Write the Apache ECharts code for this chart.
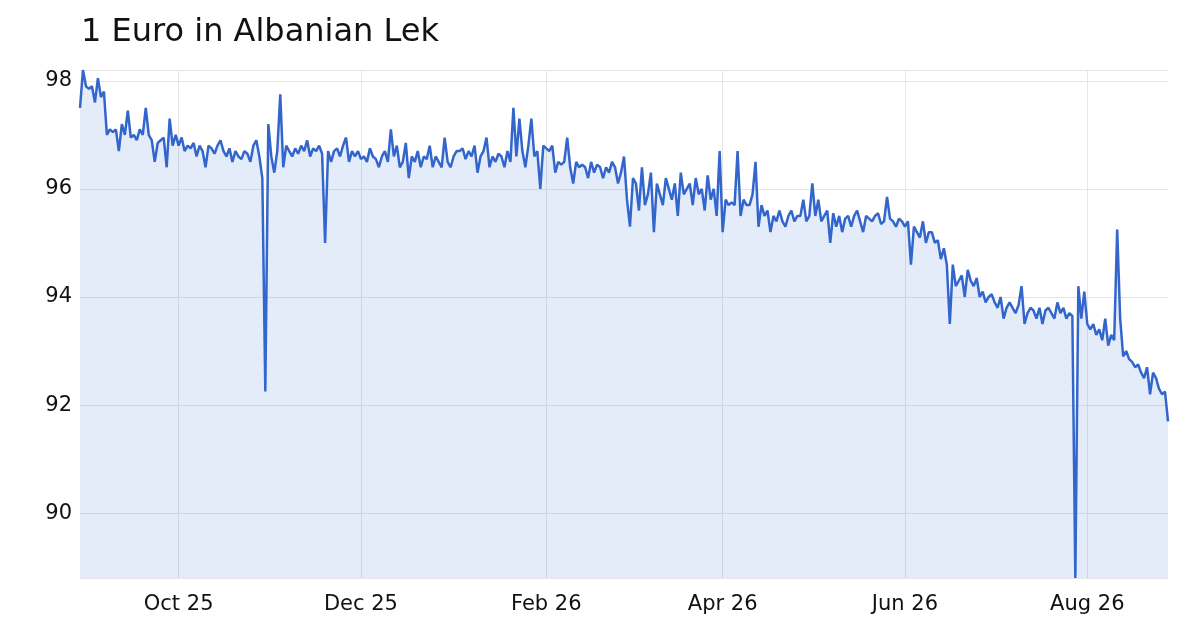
<!DOCTYPE html>
<html><head><meta charset="utf-8">
<script src="https://cdn.jsdelivr.net/npm/echarts@6/dist/echarts.min.js"></script>
<style>html,body{margin:0;padding:0;background:#fff}#c{width:1200px;height:630px}</style>
</head><body><div id="c"></div>
<script>
var startDate = [2025, 7, 29]; // 29 Aug 2025
var monthNames = ['Jan','Feb','Mar','Apr','May','Jun','Jul','Aug','Sep','Oct','Nov','Dec'];
var rates = [
97.5,98.2,97.9,
97.85,97.9,97.6,98.05,97.7,97.8,97.0,97.1,97.05,97.1,96.7,97.2,97.0,97.45,96.95,97.0,96.9,97.1,97.0,97.5,97.0,96.9,96.5,96.85,96.9,96.95,96.4,97.3,96.8,97.0,
96.8,96.95,96.7,96.8,96.75,96.85,96.6,96.8,96.7,96.4,96.8,96.75,96.65,96.8,96.9,96.7,96.6,96.75,96.5,96.7,96.6,96.55,96.7,96.65,96.5,96.8,96.9,96.6,96.2,92.25,97.2,
96.6,96.3,96.7,97.75,96.4,96.8,96.7,96.6,96.75,96.65,96.8,96.7,96.9,96.6,96.75,96.7,96.8,96.65,95.0,96.7,96.5,96.7,96.75,96.6,96.8,96.95,96.5,96.7,96.6,96.7,
96.55,96.6,96.5,96.75,96.6,96.55,96.4,96.6,96.7,96.5,97.1,96.6,96.8,96.4,96.5,96.85,96.2,96.6,96.5,96.7,96.4,96.6,96.55,96.8,96.4,96.6,96.5,96.4,96.95,96.5,96.4,
96.6,96.7,96.7,96.75,96.55,96.7,96.6,96.8,96.3,96.6,96.7,96.95,96.4,96.6,96.5,96.65,96.6,96.4,96.7,96.5,97.5,96.6,97.3,96.7,96.4,96.8,97.3,96.6,96.7,96.0,96.8,
96.75,96.7,96.8,96.3,96.5,96.45,96.5,96.95,96.4,96.1,96.5,96.4,96.45,96.4,96.2,96.5,96.3,96.45,96.4,96.2,96.4,96.3,96.5,96.4,96.1,96.3,96.6,95.8,
95.3,96.2,96.1,95.6,96.4,95.7,95.9,96.3,95.2,96.1,95.9,95.7,96.2,96.0,95.8,96.1,95.5,96.3,95.9,96.0,96.1,95.7,96.2,95.9,96.0,95.6,96.25,95.8,96.0,95.5,96.7,
95.2,95.8,95.7,95.75,95.7,96.7,95.5,95.8,95.7,95.7,95.9,96.5,95.3,95.7,95.5,95.6,95.2,95.5,95.4,95.6,95.4,95.3,95.5,95.6,95.4,95.5,95.5,95.8,95.4,95.5,
96.1,95.5,95.8,95.4,95.5,95.6,95.0,95.55,95.3,95.5,95.2,95.45,95.5,95.3,95.5,95.6,95.4,95.2,95.5,95.45,95.4,95.5,95.55,95.35,95.4,95.85,95.45,95.4,95.3,95.45,95.4,
95.3,95.4,94.6,95.3,95.2,95.1,95.4,95.0,95.2,95.2,95.0,95.05,94.7,94.9,94.6,93.5,94.6,94.2,94.3,94.4,94.0,94.5,94.3,94.2,94.35,94.0,94.1,93.9,94.0,94.05,
93.9,93.8,94.0,93.6,93.8,93.9,93.8,93.7,93.85,94.2,93.5,93.7,93.8,93.75,93.6,93.8,93.5,93.75,93.8,93.7,93.6,93.9,93.7,93.8,93.6,93.7,93.65,88.8,94.2,93.6,94.1,
93.5,93.4,93.5,93.3,93.4,93.2,93.6,93.1,93.3,93.2,95.25,93.6,92.9,93.0,92.85,92.8,92.7,92.75,92.6,92.5,92.7,92.2,92.6,92.5,92.3,92.2,92.25,91.7
];
var dates = [];
for (var i = 0; i < rates.length; i++) {
  var d = new Date(Date.UTC(startDate[0], startDate[1], startDate[2] + i));
  dates.push(d.getUTCFullYear() + '-' + (d.getUTCMonth()+1) + '-' + d.getUTCDate());
}
function isTick(idx) {
  if (idx === 0) return true;
  var p = dates[idx].split('-');
  return p[2] === '1' && (+p[1]) % 2 === 0;
}
function label(v) {
  var p = v.split('-');
  return monthNames[+p[1]-1] + ' ' + p[0].slice(2);
}
var chart = echarts.init(document.getElementById('c'));
chart.setOption({
  animation: false,
  title: {text: '1 Euro in Albanian Lek', left: 76, top: 12,
    textStyle: {fontFamily: 'DejaVu Sans', fontSize: 32, fontWeight: 'normal', color: '#111'}},
  grid: {left: 80, right: 32, top: 70, bottom: 52},
  xAxis: {type: 'category', data: dates, boundaryGap: false,
    axisLine: {show: false}, axisTick: {show: false},
    axisLabel: {interval: function(i){return isTick(i);}, formatter: label, alignMinLabel: 'left', hideOverlap: false,
      fontFamily: 'DejaVu Sans', fontSize: 21, color: '#111', margin: 16},
    splitLine: {show: true, interval: function(i){return isTick(i) && i>0;}, lineStyle: {color: '#e6e6e6'}}},
  yAxis: {type: 'value', min: 88.8, max: 98.2,
    axisLine: {show: false}, axisTick: {show: false},
    axisLabel: {showMinLabel: false, showMaxLabel: false, fontFamily: 'DejaVu Sans', fontSize: 21, color: '#111', margin: 8},
    splitLine: {lineStyle: {color: '#e6e6e6'}}},
  series: [{type: 'line', data: rates, symbol: 'none', lineStyle: {color: '#3366cc', width: 2.5},
    areaStyle: {color: 'rgba(51,102,204,0.18)'}}]
});
</script></body></html>
